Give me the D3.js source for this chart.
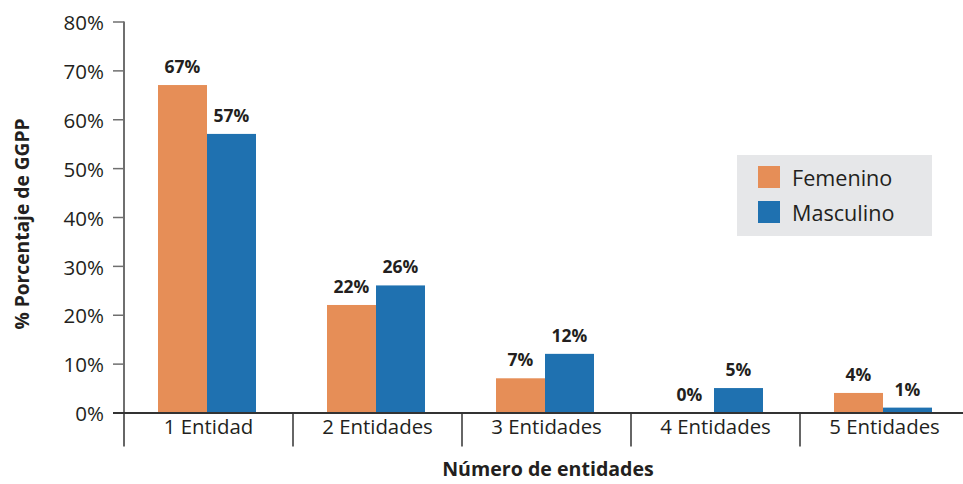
<!DOCTYPE html>
<html>
<head>
<meta charset="utf-8">
<script src="https://cdn.jsdelivr.net/npm/d3@7"></script>
<style>
  html, body { margin: 0; padding: 0; background: #fff; }
  svg { display: block; font-family: "Open Sans", "Noto Sans", sans-serif; }
</style>
</head>
<body>
<svg id="chart" width="963" height="484"></svg>
<script>
// Share of GGPP by number of entities, split by sex
const categories = ["1 Entidad", "2 Entidades", "3 Entidades", "4 Entidades", "5 Entidades"];
const seriesNames = ["Femenino", "Masculino"];
const femenino = [67, 22, 7, 0, 4];
const masculino = [57, 26, 12, 5, 1];
const yTicks = [0, 10, 20, 30, 40, 50, 60, 70, 80];

const colors = { Femenino: "#e68e57", Masculino: "#1f71b0" };
const textColor = "#231f20";

const svg = d3.select("#chart");
const W = 963, H = 484;
const plot = { left: 124, right: 969, top: 21.5, bottom: 412.5 };

const x0 = d3.scaleBand().domain(categories).range([plot.left, plot.right]).padding(0);
const x1 = d3.scaleBand().domain(seriesNames).range([34, 132]).padding(0);
const y = d3.scaleLinear().domain([0, 80]).range([plot.bottom, plot.top]);

const rows = categories.map((c, i) => ({
  cat: c,
  values: [
    { key: "Femenino", v: femenino[i] },
    { key: "Masculino", v: masculino[i] }
  ]
}));

// Bars
const groups = svg.append("g").selectAll("g").data(rows).join("g")
  .attr("transform", d => `translate(${x0(d.cat)},0)`);

groups.selectAll("rect").data(d => d.values).join("rect")
  .attr("x", d => x1(d.key))
  .attr("width", x1.bandwidth())
  .attr("y", d => y(d.v))
  .attr("height", d => y(0) - y(d.v))
  .attr("fill", d => colors[d.key]);

// Value labels
groups.selectAll("text").data(d => d.values).join("text")
  .attr("x", d => x1(d.key) + x1.bandwidth() / 2)
  .attr("y", d => y(d.v) - 12)
  .attr("text-anchor", "middle")
  .attr("font-size", 17.5)
  .attr("font-weight", 700)
  .attr("fill", textColor)
  .text(d => d.v + "%");

// Y axis
const yAxis = svg.append("g")
  .attr("transform", `translate(${plot.left},0)`)
  .call(d3.axisLeft(y).tickValues(yTicks).tickSize(11).tickPadding(9).tickFormat(d => d + "%"));
yAxis.select(".domain").attr("stroke", "#6f6f6f").attr("stroke-width", 2)
  .attr("d", `M0,${plot.top}V${plot.bottom}`);
yAxis.selectAll(".tick line").attr("stroke", "#6f6f6f").attr("stroke-width", 1.5);
yAxis.selectAll(".tick text")
  .attr("font-size", 20.5)
  .attr("font-family", "'Open Sans', sans-serif")
  .attr("fill", textColor)
  .attr("dy", "0.4em");

// X axis baseline and category separators
const xAxis = svg.append("g");
xAxis.append("line")
  .attr("x1", 113).attr("x2", W)
  .attr("y1", y(0) + 0.5).attr("y2", y(0) + 0.5)
  .attr("stroke", "#333").attr("stroke-width", 2);
const bounds = categories.map(c => x0(c)).concat([x0(categories[categories.length - 1]) + x0.bandwidth()]);
xAxis.selectAll("line.sep").data(bounds.filter(b => b < W)).join("line")
  .attr("class", "sep")
  .attr("x1", d => d).attr("x2", d => d)
  .attr("y1", y(0)).attr("y2", y(0) + 34)
  .attr("stroke", "#333").attr("stroke-width", 1.5);
xAxis.selectAll("text").data(categories).join("text")
  .attr("x", d => x0(d) + x0.bandwidth() / 2)
  .attr("y", y(0) + 21.5)
  .attr("text-anchor", "middle")
  .attr("font-size", 20.4)
  .attr("fill", textColor)
  .text(d => d);

// Axis titles
svg.append("text")
  .attr("transform", "translate(29,224) rotate(-90)")
  .attr("text-anchor", "middle")
  .attr("font-size", 19.2)
  .attr("font-weight", 700)
  .attr("fill", textColor)
  .text("% Porcentaje de GGPP");

svg.append("text")
  .attr("x", 548).attr("y", 476)
  .attr("text-anchor", "middle")
  .attr("font-size", 19.6)
  .attr("font-weight", 700)
  .attr("fill", textColor)
  .text("Número de entidades");

// Legend
const legend = svg.append("g").attr("transform", "translate(737,155)");
legend.append("rect").attr("width", 195).attr("height", 81).attr("fill", "#e6e7e9");
const items = legend.selectAll("g").data(seriesNames).join("g")
  .attr("transform", (d, i) => `translate(21,${11 + i * 35})`);
items.append("rect").attr("width", 22).attr("height", 22).attr("fill", d => colors[d]);
items.append("text")
  .attr("x", 34).attr("y", 19.5)
  .attr("font-size", 21.6)
  .attr("fill", textColor)
  .text(d => d);
</script>
</body>
</html>
